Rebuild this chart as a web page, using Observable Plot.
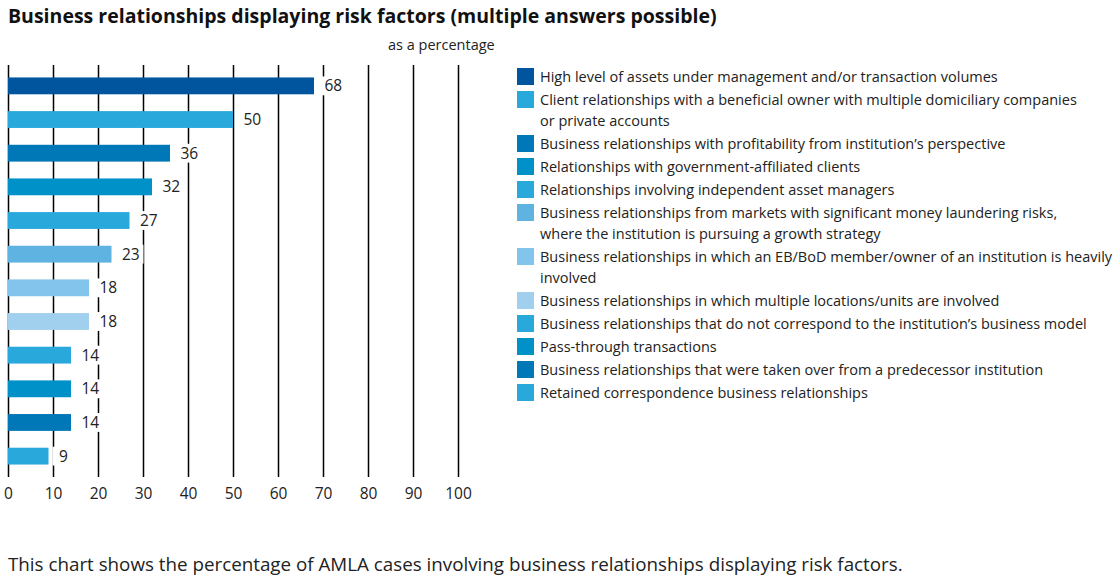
<!DOCTYPE html>
<html>
<head>
<meta charset="utf-8">
<script src="https://cdn.jsdelivr.net/npm/d3@7"></script>
<script src="https://cdn.jsdelivr.net/npm/@observablehq/plot@0.6"></script>
<style>
  html, body { margin: 0; padding: 0; background: #fff; }
  body { width: 1120px; height: 583px; position: relative; overflow: hidden; font-family: "Open Sans", sans-serif; color: #1a1a1a; }
  #title { position: absolute; left: 8px; top: 2px; font-weight: bold; font-size: 19.5px; color: #111; white-space: nowrap; }
  #unit { position: absolute; left: 388px; top: 35px; font-size: 14.5px; color: #222; }
  #chart { position: absolute; left: 0; top: 60px; }
  #legend { position: absolute; left: 517px; top: 66px; font-size: 14.5px; color: #222; }
  .item { display: flex; align-items: flex-start; margin-bottom: 2px; line-height: 21px; }
  .sw { width: 17px; height: 17px; margin-top: 2px; margin-right: 6px; flex: none; }
  .lab { white-space: pre-line; }
  #caption { position: absolute; left: 8px; top: 551px; font-size: 18.8px; color: #222; white-space: nowrap; }
</style>
</head>
<body>
<div id="title">Business relationships displaying risk factors (multiple answers possible)</div>
<div id="unit">as a percentage</div>
<div id="chart"></div>
<div id="legend"></div>
<div id="caption">This chart shows the percentage of AMLA cases involving business relationships displaying risk factors.</div>
<script>
const categories = [
  "High level of assets under management and/or transaction volumes",
  "Client relationships with a beneficial owner with multiple domiciliary companies\nor private accounts",
  "Business relationships with profitability from institution’s perspective",
  "Relationships with government-affiliated clients",
  "Relationships involving independent asset managers",
  "Business relationships from markets with significant money laundering risks,\nwhere the institution is pursuing a growth strategy",
  "Business relationships in which an EB/BoD member/owner of an institution is heavily\ninvolved",
  "Business relationships in which multiple locations/units are involved",
  "Business relationships that do not correspond to the institution’s business model",
  "Pass-through transactions",
  "Business relationships that were taken over from a predecessor institution",
  "Retained correspondence business relationships"
];
const values = [68, 50, 36, 32, 27, 23, 18, 18, 14, 14, 14, 9];
const colors = ["#00559e", "#29a8dc", "#0077b6", "#0091c9", "#29a8dc", "#5fb3e0", "#83c4ec", "#a0d0ee", "#29a8dc", "#0091c9", "#0077b6", "#29a8dc"];
const xTicks = [0, 10, 20, 30, 40, 50, 60, 70, 80, 90, 100];

const data = categories.map((c, i) => ({category: c, value: values[i], color: colors[i]}));

const chart = Plot.plot({
  width: 500,
  height: 447,
  marginTop: 5,
  marginBottom: 30,
  marginLeft: 8,
  marginRight: 42,
  style: {fontFamily: "Open Sans, sans-serif", fontSize: "15.5px", color: "#222"},
  x: {type: "linear", domain: [0, 100], ticks: xTicks, tickSize: 0, tickPadding: 10, label: null},
  y: {domain: categories, paddingInner: 0.5, paddingOuter: 0.37, round: false, axis: null},
  marks: [
    Plot.ruleX(xTicks, {stroke: "#000", strokeWidth: 1.5}),
    Plot.barX(data, {y: "category", x1: "value", x2: "value", fill: "white", insetLeft: 4, insetRight: -32, insetTop: -1, insetBottom: -1}),
    Plot.barX(data, {y: "category", x: "value", fill: "color"}),
    Plot.text(data, {y: "category", x: "value", text: d => String(d.value), dx: 10, textAnchor: "start", fill: "#222", fontSize: 15.5})
  ]
});
document.getElementById("chart").appendChild(chart);

const legend = document.getElementById("legend");
data.forEach(d => {
  const item = document.createElement("div");
  item.className = "item";
  const sw = document.createElement("div");
  sw.className = "sw";
  sw.style.background = d.color;
  const lab = document.createElement("div");
  lab.className = "lab";
  lab.textContent = d.category;
  item.appendChild(sw);
  item.appendChild(lab);
  legend.appendChild(item);
});
</script>
</body>
</html>
